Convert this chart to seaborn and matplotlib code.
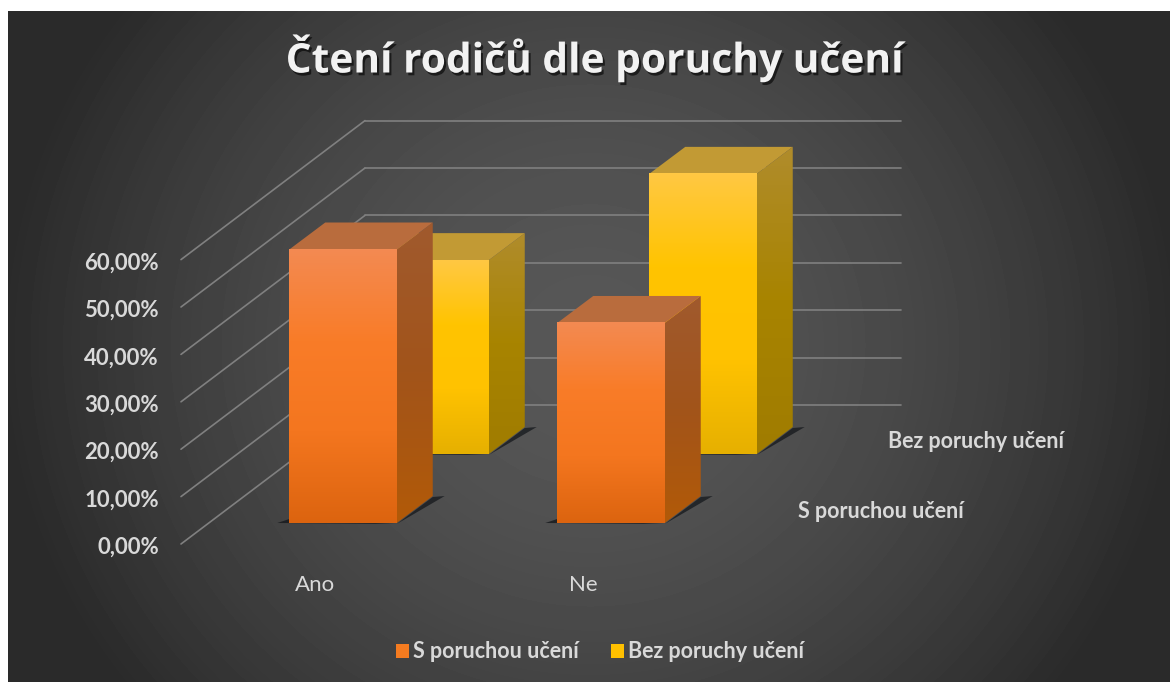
import numpy as np
import pandas as pd
import matplotlib
matplotlib.use("Agg")
import matplotlib.pyplot as plt
import matplotlib.patheffects as pe
from matplotlib.colors import LinearSegmentedColormap
from matplotlib.patches import Polygon, Patch
from matplotlib.transforms import ScaledTranslation
import seaborn as sns

# ---- data ----
categories = ["Ano", "Ne"]
s_poruchou = [57.7, 42.2]
bez_poruchy = [40.9, 59.1]
series_names = ["S poruchou učení", "Bez poruchy učení"]
y_ticks = [0, 10, 20, 30, 40, 50, 60]
y_tick_labels = ["0,00%", "10,00%", "20,00%", "30,00%", "40,00%", "50,00%", "60,00%"]
title_text = "Čtení rodičů dle poruchy učení"

df = pd.DataFrame({"kategorie": categories,
                   series_names[0]: s_poruchou,
                   series_names[1]: bez_poruchy})

# ---- style ----
sns.set_theme(style="dark")
plt.rcParams["font.family"] = ["Lato", "DejaVu Sans"]
W, H = 1170, 682
TXT = "#D9D9D9"
LABEL_SIZE = 15.5
fig = plt.figure(figsize=(W / 100, H / 100), dpi=100, facecolor="white")

# background
bg = fig.add_axes([8 / W, 0, (W - 8) / W, (H - 11) / H])
yy, xx = np.mgrid[11:H, 8:W]
r = np.sqrt(((xx - 590) / 590.0) ** 2 + ((yy - 345) / 560.0) ** 2)
shade = 0x57 - (0x57 - 0x2A) * np.clip(r, 0, 1) ** 1.7
bg.imshow(shade, cmap="gray", vmin=0, vmax=255, aspect="auto", interpolation="bilinear")
bg.set_axis_off()

PX_X = 268.0       # pixels per category step
PX_Y = 4.74        # pixels per percentage point


def plane(left, floor):
    """Transparent axes standing at one depth of the pseudo-3D scene."""
    ax = fig.add_axes([left / W, 1 - floor / H, 2 * PX_X / W, 60 * PX_Y / H])
    ax.patch.set_alpha(0)
    for s in ax.spines.values():
        s.set_visible(False)
    return ax


def finish(ax):
    ax.set_xlim(-0.5, 1.5)
    ax.set_ylim(0, 60)
    ax.set_xlabel("")
    ax.set_ylabel("")
    ax.tick_params(length=0, labelleft=False, labelbottom=False)
    ax.grid(False)


def grad(stops):
    return LinearSegmentedColormap.from_list("g", stops)


def extrude(ax, cols):
    """Turn the seaborn bars of this axes into blocks with side and top faces."""
    dx, dy = 36 / PX_X, 27 / PX_Y
    ramp = np.linspace(0, 1, 256).reshape(-1, 1)
    for p in list(ax.patches):
        x0, y0 = p.get_x(), p.get_y()
        w, h = p.get_width(), p.get_height()
        x1, y1 = x0 + w, y0 + h
        # floor shadow
        sx, sy = 12 / PX_X, 4 / PX_Y
        ax.add_patch(Polygon([(x1, y0 - 1 / PX_Y), (x1 + dx + sx, y0 + dy),
                              (x1 + dx, y0 + dy - 1 / PX_Y)],
                             fc="#15181c", ec="none", alpha=.75, clip_on=False, zorder=1))
        ax.add_patch(Polygon([(x0 - sx, y0), (x1, y0 - 1 / PX_Y), (x0, y0 + sy)],
                             fc="#15181c", ec="none", alpha=.8, clip_on=False, zorder=1))
        # side face
        side = Polygon([(x1, y0), (x1 + dx, y0 + dy), (x1 + dx, y1 + dy), (x1, y1)],
                       fc="none", ec="none", clip_on=False, zorder=2)
        ax.add_patch(side)
        im = ax.imshow(ramp, cmap=grad(cols["side"]), aspect="auto", zorder=2,
                       extent=(x1, x1 + dx, y0, y1 + dy), origin="upper")
        im.set_clip_path(side)
        im.set_clip_box(fig.bbox)
        # top face
        ax.add_patch(Polygon([(x0, y1), (x0 + dx, y1 + dy), (x1 + dx, y1 + dy), (x1, y1)],
                             fc=cols["top"], ec="none", clip_on=False, zorder=2))
        # front face
        p.set_zorder(2)
        im = ax.imshow(ramp, cmap=grad(cols["front"]), aspect="auto", zorder=3,
                       extent=(x0, x1, y0, y1), origin="upper")
        im.set_clip_path(p)
        im.set_clip_box(fig.bbox)
    finish(ax)


# back wall with gridlines and the left wall
wall = plane(365, 405)
wall.set_xlim(-0.5, 1.5)
wall.set_ylim(0, 60)
wall.set_yticks(y_ticks)
wall.set_xticks([])
wall.yaxis.grid(True, color="#808080", lw=1.2)
for g in wall.get_ygridlines():
    g.set_clip_on(False)
wall.tick_params(length=0, labelleft=False)
for t in y_ticks:
    wall.plot([-0.5, -0.5 - 184 / PX_X], [t, t - 139 / PX_Y],
              color="#808080", lw=1.2, clip_on=False, solid_capstyle="round")
wall.set_xlim(-0.5, 1.5)
wall.set_ylim(0, 60)

colors = {
    series_names[1]: dict(front=["#FFC843", "#FFC400", "#FFC200", "#E6B000"],
                          side=["#B08C2C", "#A88400", "#A07C00"],
                          top="#C29A34", base="#FFC000"),
    series_names[0]: dict(front=["#F38A52", "#F97C28", "#F4761F", "#DC640F"],
                          side=["#A05A2E", "#A2541A", "#B25A08"],
                          top="#B96C3D", base="#ED7D31"),
}

# rear series
back = plane(301, 454)
sns.barplot(data=df, x="kategorie", y=series_names[1], ax=back, width=107.5 / PX_X,
            color=colors[series_names[1]]["base"], saturation=1, linewidth=0)
finish(back)
extrude(back, colors[series_names[1]])
back.annotate(series_names[1], xy=(1.5, 0), xytext=(51, 12), textcoords="offset pixels",
              color=TXT, fontsize=LABEL_SIZE, fontweight="bold", va="center", ha="left",
              annotation_clip=False)

# front series
front = plane(209, 523)
sns.barplot(data=df, x="kategorie", y=series_names[0], ax=front, width=107.5 / PX_X,
            color=colors[series_names[0]]["base"], saturation=1, linewidth=0)
finish(front)
extrude(front, colors[series_names[0]])
front.annotate(series_names[0], xy=(1.5, 0), xytext=(53, 12), textcoords="offset pixels",
               color=TXT, fontsize=LABEL_SIZE, fontweight="bold", va="center", ha="left",
               annotation_clip=False)

# axis labels on the front plane of the floor
axis_ax = plane(181, 544)
axis_ax.set_xlim(-0.5, 1.5)
axis_ax.set_ylim(0, 60)
axis_ax.set_xticks(range(len(categories)))
axis_ax.set_xticklabels(categories, color=TXT, fontsize=16)
axis_ax.set_yticks(y_ticks)
axis_ax.set_yticklabels(y_tick_labels, color=TXT, fontsize=16, fontweight="bold")
axis_ax.tick_params(axis="x", length=0, pad=22)
axis_ax.tick_params(axis="y", length=0, pad=16)
axis_ax.grid(False)
shift = ScaledTranslation(0, -1.5 / 100, fig.dpi_scale_trans)
for lab in axis_ax.get_yticklabels():
    lab.set_transform(lab.get_transform() + shift)

# title
fig.text(595 / W, 1 - 58 / H, title_text, ha="center", va="center", color="#F2F2F2",
         fontsize=29.3, fontweight="bold", family=["Open Sans", "DejaVu Sans"],
         path_effects=[pe.withSimplePatchShadow(offset=(1.5, -2), shadow_rgbFace="black", alpha=.6)])

# legend
handles = [Patch(fc=colors[n]["base"] if n == series_names[1] else "#F47B20", ec="none", label=n)
           for n in series_names]
leg = fig.legend(handles=handles, ncol=2, loc="center", bbox_to_anchor=(600 / W, 1 - 652 / H),
                 frameon=False, handlelength=0.6, handleheight=0.6,
                 handletextpad=0.2, columnspacing=1.5, labelcolor=TXT,
                 prop={"size": LABEL_SIZE, "weight": "bold"})

fig.savefig("out.png", dpi=100, facecolor="white")
